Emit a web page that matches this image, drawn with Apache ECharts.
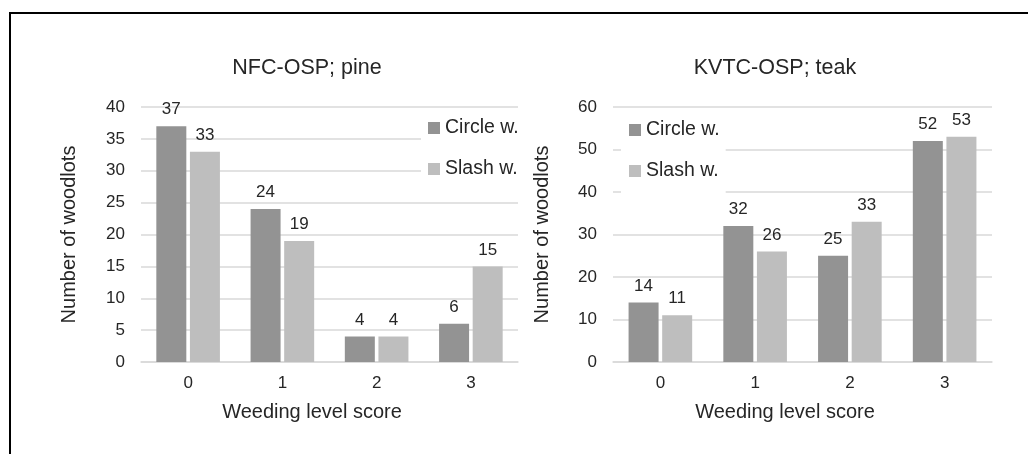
<!DOCTYPE html>
<html>
<head>
<meta charset="utf-8">
<script src="https://cdn.jsdelivr.net/npm/echarts@6/dist/echarts.min.js"></script>
<style>
html,body{margin:0;padding:0;background:#fff;}
#chart{width:1028px;height:454px;}
</style>
</head>
<body>
<div id="chart"></div>
<script>
const categories = ['0', '1', '2', '3'];
const seriesNames = ['Circle w.', 'Slash w.'];
const pineCircle = [37, 24, 4, 6];
const pineSlash = [33, 19, 4, 15];
const teakCircle = [14, 32, 25, 52];
const teakSlash = [11, 26, 33, 53];
const titles = ['NFC-OSP; pine', 'KVTC-OSP; teak'];
const xName = 'Weeding level score';
const yName = 'Number of woodlots';

const FONT = '"Liberation Sans", Arial, sans-serif';
const TXT = '#262626';
const DARK = '#939393';
const LIGHT = '#bebebe';
const GRIDC = '#d9d9d9';

function xAxis(gi) {
  return {
    type: 'category', gridIndex: gi, data: categories,
    axisTick: {show: false},
    axisLine: {lineStyle: {color: GRIDC, width: 1.5}},
    axisLabel: {fontFamily: FONT, fontSize: 17, color: TXT, margin: 13},
    name: xName, nameLocation: 'middle', nameGap: 40,
    nameTextStyle: {fontFamily: FONT, fontSize: 20, color: TXT, padding: [0, 35, 0, 0]}
  };
}
function yAxis(gi, max, interval, gap) {
  return {
    type: 'value', gridIndex: gi, min: 0, max: max, interval: interval,
    axisLine: {show: false}, axisTick: {show: false},
    splitLine: {lineStyle: {color: GRIDC, width: 1.5}},
    axisLabel: {fontFamily: FONT, fontSize: 17, color: TXT, margin: 16},
    name: yName, nameLocation: 'middle', nameGap: gap,
    nameTextStyle: {fontFamily: FONT, fontSize: 20, color: TXT}
  };
}
function bar(name, data, idx, color) {
  return {
    type: 'bar', name: name, data: data, xAxisIndex: idx, yAxisIndex: idx,
    barWidth: 30, barGap: '12%',
    itemStyle: {color: color},
    label: {show: true, position: 'top', distance: 8, fontFamily: FONT, fontSize: 17, color: TXT}
  };
}
function legend(left, top, padding) {
  return {
    data: seriesNames, orient: 'vertical', left: left, top: top,
    icon: 'rect', itemWidth: 12, itemHeight: 12, itemGap: 21,
    backgroundColor: '#fff', padding: padding,
    textStyle: {fontFamily: FONT, fontSize: 19.5, color: TXT}
  };
}

const chart = echarts.init(document.getElementById('chart'), null, {renderer: 'canvas'});
chart.setOption({
  animation: false,
  backgroundColor: '#fff',
  color: [DARK, LIGHT],
  title: [
    {text: titles[0], left: 302, top: 52, textAlign: 'center', textStyle: {fontFamily: FONT, fontSize: 21.5, fontWeight: 'normal', color: TXT}},
    {text: titles[1], left: 770, top: 52, textAlign: 'center', textStyle: {fontFamily: FONT, fontSize: 21.5, fontWeight: 'normal', color: TXT}}
  ],
  legend: [
    legend(421, 110, [8, 6, 10, 7]),
    legend(621, 112, [8, 6, 14, 8])
  ],
  grid: [
    {left: 141, right: 510, top: 107, bottom: 92},
    {left: 613, right: 36, top: 107, bottom: 92}
  ],
  xAxis: [xAxis(0), xAxis(1)],
  yAxis: [yAxis(0, 40, 5, 62), yAxis(1, 60, 10, 61)],
  series: [
    bar(seriesNames[0], pineCircle, 0, DARK),
    bar(seriesNames[1], pineSlash, 0, LIGHT),
    bar(seriesNames[0], teakCircle, 1, DARK),
    bar(seriesNames[1], teakSlash, 1, LIGHT)
  ],
  graphic: [{
    type: 'polyline', silent: true,
    shape: {points: [[10, 454], [10, 13], [1028, 13]]},
    style: {stroke: '#000', lineWidth: 2, fill: null}
  }]
});
</script>
</body>
</html>
